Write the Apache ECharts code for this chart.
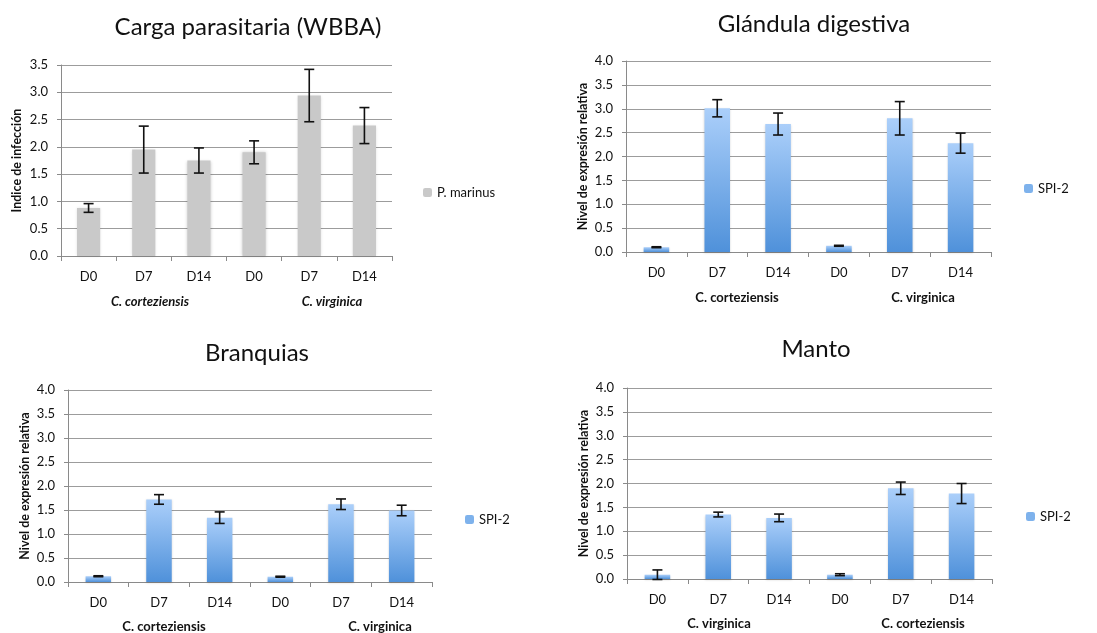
<!DOCTYPE html>
<html>
<head>
<meta charset="utf-8">
<title>Carga parasitaria y SPI-2</title>
<script src="https://cdn.jsdelivr.net/npm/echarts@6/dist/echarts.min.js"></script>
<style>
  html, body { margin: 0; padding: 0; background: #fff; }
  #chart { width: 1097px; height: 633px; }
</style>
</head>
<body>
<div id="chart"></div>
<script>
// categories
const days = ['D0', 'D7', 'D14', 'D0', 'D7', 'D14'];

// panel 1 - Carga parasitaria (WBBA)
const carga = [0.88, 1.95, 1.75, 1.90, 2.94, 2.39];
const cargaErr = [0.08, 0.43, 0.23, 0.21, 0.48, 0.33];

// panel 2 - Glandula digestiva
const glandula = [0.10, 3.01, 2.68, 0.13, 2.80, 2.28];
const glandulaErr = [0.01, 0.18, 0.23, 0.01, 0.35, 0.21];

// panel 3 - Branquias
const branquias = [0.12, 1.72, 1.34, 0.11, 1.62, 1.49];
const branquiasErr = [0.01, 0.10, 0.12, 0.01, 0.11, 0.11];

// panel 4 - Manto
const manto = [0.09, 1.35, 1.28, 0.09, 1.90, 1.79];
const mantoErr = [0.10, 0.05, 0.08, 0.02, 0.13, 0.21];

const titles = ['Carga parasitaria (WBBA)', 'Glándula digestiva', 'Branquias', 'Manto'];
const yNames = ['Indice de infección', 'Nivel de expresión relativa', 'Nivel de expresión relativa', 'Nivel de expresión relativa'];
const yMax = [3.5, 4, 4, 4];
const groups = [
    ['C. corteziensis', 'C. virginica'],
    ['C. corteziensis', 'C. virginica'],
    ['C. corteziensis', 'C. virginica'],
    ['C. virginica', 'C. corteziensis']
];
const seriesNames = ['P. marinus', 'SPI-2', 'SPI-2', 'SPI-2'];

const FONT = 'Lato, "Open Sans", sans-serif';

const grids = [
    {left: 61, right: 705, top: 65, bottom: 377},
    {left: 626, right: 106, top: 61, bottom: 381},
    {left: 68, right: 665, top: 390, bottom: 51},
    {left: 627, right: 105, top: 388, bottom: 54}
];
const titlePos = [[248, 27], [814, 24], [257, 353], [816, 349]];
const groupPos = [
    [[150, 302], [332, 302]],
    [[737, 298], [923, 298]],
    [[164, 627], [380, 627]],
    [[719, 624], [923, 624]]
];
const legendPos = [[418, 181], [1019, 177], [460, 508], [1021, 505]];

const values = [carga, glandula, branquias, manto];
const errs = [cargaErr, glandulaErr, branquiasErr, mantoErr];

const blueGrad = new echarts.graphic.LinearGradient(0, 0, 0, 1, [
    {offset: 0, color: '#abcffa'},
    {offset: 1, color: '#4f91da'}
]);

function renderErr(params, api) {
    let x = api.value(0);
    let lo = api.coord([x, api.value(1)]);
    let hi = api.coord([x, api.value(2)]);
    let w = 5;
    let st = {stroke: '#111', lineWidth: 1.6};
    return {
        type: 'group',
        children: [
            {type: 'line', shape: {x1: hi[0], y1: hi[1], x2: lo[0], y2: lo[1]}, style: st},
            {type: 'line', shape: {x1: hi[0] - w, y1: hi[1], x2: hi[0] + w, y2: hi[1]}, style: st},
            {type: 'line', shape: {x1: lo[0] - w, y1: lo[1], x2: lo[0] + w, y2: lo[1]}, style: st}
        ]
    };
}

let xAxes = [], yAxes = [], series = [], legends = [], texts = [];

grids.forEach(function (g, i) {
    xAxes.push({
        type: 'category',
        gridIndex: i,
        data: days,
        axisLine: {lineStyle: {color: '#8a8a8a', width: 1}},
        axisTick: {show: true, interval: 0, length: 5, lineStyle: {color: '#8a8a8a'}},
        axisLabel: {color: '#111', fontSize: 13, fontFamily: FONT, margin: 14}
    });
    yAxes.push({
        type: 'value',
        gridIndex: i,
        min: 0,
        max: yMax[i],
        interval: 0.5,
        name: yNames[i],
        nameLocation: 'middle',
        nameRotate: 90,
        nameGap: i === 0 ? 38 : 37,
        nameTextStyle: {color: '#111', fontSize: 12.5, fontWeight: 'bold', fontFamily: FONT},
        axisLine: {show: true, lineStyle: {color: '#8a8a8a'}},
        axisTick: {show: true, length: 4, lineStyle: {color: '#8a8a8a'}},
        axisLabel: {color: '#111', fontSize: 13, fontFamily: FONT, margin: 13,
            formatter: function (v) { return v.toFixed(1); }},
        splitLine: {show: true, lineStyle: {color: '#9c9c9c', width: 1}}
    });

    let isGray = i === 0;
    series.push({
        type: 'bar',
        name: seriesNames[i],
        xAxisIndex: i,
        yAxisIndex: i,
        barWidth: '42%',
        data: values[i],
        itemStyle: isGray
            ? {color: '#c9c9c9', shadowBlur: 3, shadowColor: 'rgba(0,0,0,0.18)'}
            : {color: blueGrad, shadowBlur: 2, shadowColor: 'rgba(0,0,0,0.15)', shadowOffsetY: 1},
        emphasis: {disabled: true}
    });
    series.push({
        type: 'custom',
        name: 'err' + i,
        xAxisIndex: i,
        yAxisIndex: i,
        z: 5,
        renderItem: renderErr,
        encode: {x: 0, y: [1, 2]},
        data: values[i].map(function (v, k) { return [k, v - errs[i][k], v + errs[i][k]]; })
    });

    legends.push({
        data: [seriesNames[i]],
        left: legendPos[i][0],
        top: legendPos[i][1],
        itemWidth: 9,
        itemHeight: 9,
        itemGap: 4,
        selectedMode: false,
        textStyle: {color: '#111', fontSize: 13, fontFamily: FONT},
        itemStyle: isGray ? {color: '#c9c9c9'} : {color: '#7eb2ec'}
    });

    texts.push({
        type: 'text',
        x: titlePos[i][0],
        y: titlePos[i][1],
        style: {text: titles[i], fill: '#111', font: '24px ' + FONT, align: 'center', verticalAlign: 'middle'}
    });
    groups[i].forEach(function (name, k) {
        texts.push({
            type: 'text',
            x: groupPos[i][k][0],
            y: groupPos[i][k][1],
            style: {
                text: name,
                fill: '#111',
                font: (isGray ? 'italic ' : '') + 'bold 13px ' + FONT,
                align: 'center',
                verticalAlign: 'middle'
            }
        });
    });
});

let chart = echarts.init(document.getElementById('chart'));
chart.setOption({
    animation: false,
    backgroundColor: '#fff',
    grid: grids,
    xAxis: xAxes,
    yAxis: yAxes,
    legend: legends,
    series: series,
    graphic: texts
});
</script>
</body>
</html>
